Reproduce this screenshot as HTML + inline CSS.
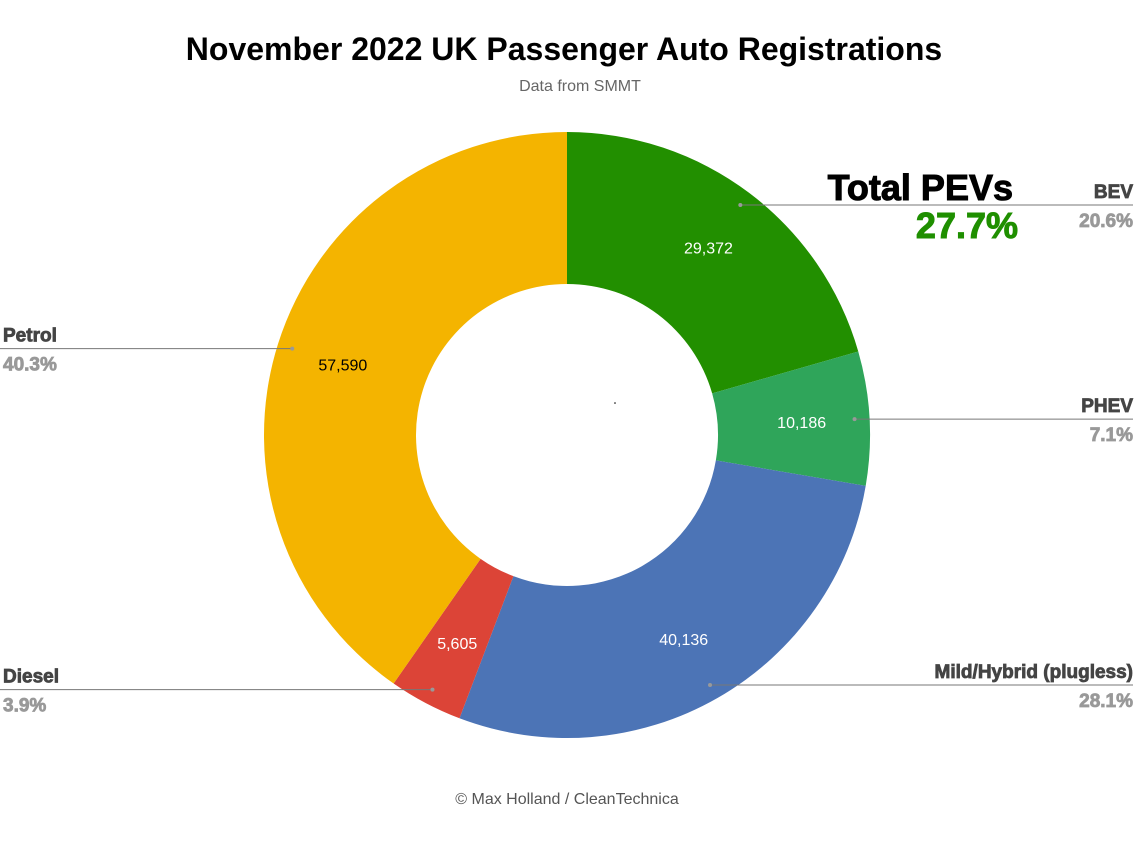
<!DOCTYPE html>
<html><head><meta charset="utf-8">
<style>
html,body{margin:0;padding:0;background:#fff;}
body{width:1141px;height:845px;overflow:hidden;font-family:"Liberation Sans",sans-serif;}
svg{display:block}
</style></head>
<body>
<svg id="chart" width="1141" height="845" xmlns="http://www.w3.org/2000/svg">
  <text x="564" y="60" text-anchor="middle" font-family="Liberation Sans, sans-serif" font-weight="bold" font-size="32" fill="#000">November 2022 UK Passenger Auto Registrations</text>
  <text x="580" y="91" text-anchor="middle" font-family="Liberation Sans, sans-serif" font-size="16" fill="#666">Data from SMMT</text>
  <g id="slices"></g>
  <g id="labels"></g>
  <text x="1013" y="200" text-anchor="end" font-family="Liberation Sans, sans-serif" font-weight="bold" font-size="36" fill="#000" stroke="#000" stroke-width="1">Total PEVs</text>
  <text id="pevTotal" x="1018" y="238" text-anchor="end" font-family="Liberation Sans, sans-serif" font-weight="bold" font-size="36" fill="#1f8f00" stroke="#1f8f00" stroke-width="1"></text>
  <text x="567" y="804" text-anchor="middle" font-family="Liberation Sans, sans-serif" font-size="16" fill="#555">© Max Holland / CleanTechnica</text>
</svg>
<script>
const categories = ["BEV","PHEV","Mild/Hybrid (plugless)","Diesel","Petrol"];
const values = [29372,10186,40136,5605,57590];
const colors = ["#228f00","#2fa55a","#4c74b6","#dc4437","#f4b400"];
const valueTextColors = ["#fff","#fff","#fff","#fff","#000"];
const sides = ["right","right","right","left","left"];
const pevCategories = ["BEV","PHEV"];

const NS="http://www.w3.org/2000/svg";
const cx=567, cy=435, R=303, r=151;
const total = values.reduce((a,b)=>a+b,0);
function pt(frac,rad){const a=frac*2*Math.PI;return [cx+rad*Math.sin(a), cy-rad*Math.cos(a)];}
const sg=document.getElementById('slices'), lg=document.getElementById('labels');
let acc=0;
function mk(tag,attrs,parent){const e=document.createElementNS(NS,tag);for(const k in attrs)e.setAttribute(k,attrs[k]);parent.appendChild(e);return e;}
values.forEach((v,i)=>{
  const f0=acc/total, f1=(acc+v)/total; acc+=v;
  const large=(f1-f0)>0.5?1:0;
  const [x0,y0]=pt(f0,R),[x1,y1]=pt(f1,R),[x2,y2]=pt(f1,r),[x3,y3]=pt(f0,r);
  const p=mk('path',{d:`M${x0},${y0} A${R},${R} 0 ${large} 1 ${x1},${y1} L${x2},${y2} A${r},${r} 0 ${large} 0 ${x3},${y3} Z`,fill:colors[i]},sg);
  
  
  const fm=(f0+f1)/2;
  const [lx,ly]=pt(fm,235);
  const vt=mk('text',{x:lx,y:ly+6,'text-anchor':'middle','font-size':'16','font-family':'Liberation Sans, sans-serif',fill:valueTextColors[i]},lg);
  vt.textContent=v.toLocaleString('en-US');
  
  
  const [dx,dy]=pt(fm,288);
  const right=sides[i]==='right';
  const ex=right?1133:0;
  const ln=mk('line',{x1:dx,y1:dy,x2:ex,y2:dy,stroke:'#777','stroke-width':'1'},lg);
  
  
  const dot=mk('circle',{cx:dx,cy:dy,r:2,fill:'#999'},lg);
  
  
  const tx=right?1133:3, anc=right?'end':'start';
  const nt=mk('text',{x:tx,y:dy-7,'text-anchor':anc,'font-size':'19','font-weight':'bold','font-family':'Liberation Sans, sans-serif',fill:'#444',stroke:'#444','stroke-width':'0.8'},lg);
  nt.textContent=categories[i];
  
  
  const pc=mk('text',{x:tx,y:dy+22,'text-anchor':anc,'font-size':'19','font-weight':'bold','font-family':'Liberation Sans, sans-serif',fill:'#999',stroke:'#999','stroke-width':'0.8'},lg);
  pc.textContent=(v/total*100).toFixed(1)+'%';
  
  
});
const pev=values.filter((v,i)=>pevCategories.includes(categories[i])).reduce((a,b)=>a+b,0);
document.getElementById('pevTotal').textContent=(pev/total*100).toFixed(1)+'%';
const c=mk('circle',{cx:615,cy:403,r:0.8,fill:'#000'},lg);


</script>
</body></html>
